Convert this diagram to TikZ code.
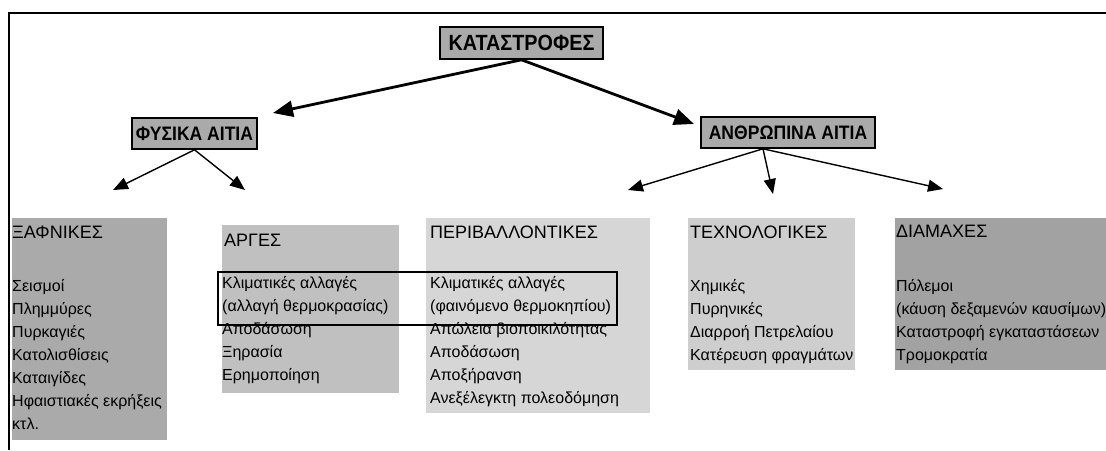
\documentclass[tikz,border=0pt]{standalone}
\usepackage{fontspec}
\setmainfont{Liberation Sans}
\newfontfamily\titlefont{Liberation Sans}[FakeStretch=0.9]
\usetikzlibrary{arrows.meta}
\definecolor{titlegray}{RGB}{170,170,170}
\definecolor{suddengray}{RGB}{170,170,170}
\definecolor{slowgray}{RGB}{192,192,192}
\definecolor{envgray}{RGB}{214,214,214}
\definecolor{techgray}{RGB}{206,206,206}
\definecolor{wargray}{RGB}{162,162,162}
\tikzset{
  titlebox/.style={draw=black, line width=1.6pt, fill=titlegray, inner sep=0pt,
    font=\titlefont\bfseries\fontsize{22}{22}\selectfont},
  causebox/.style={titlebox, minimum height=31pt,
    font=\titlefont\bfseries\fontsize{19.5}{19.5}\selectfont},
  heading/.style={anchor=west, inner sep=0pt, font=\fontsize{18}{18}\selectfont},
  itemlist/.style={anchor=north west, inner sep=0pt, align=left,
    font=\fontsize{16}{23}\selectfont},
  mainarrow/.style={line width=2.8pt, -{Triangle[length=20pt,width=16pt]}},
  subarrow/.style={line width=1.4pt, -{Triangle[length=15pt,width=12pt]}},
}
\begin{document}
\begin{tikzpicture}[x=1pt,y=-1pt]
\useasboundingbox (0,0) rectangle (1106,450);
\fill[white] (0,0) rectangle (1106,450);

% outer frame (top and left edges only)
\draw[line width=2pt] (9,450) -- (9,13) -- (1106,13);

% category panels
\fill[suddengray] (12,218) rectangle (167,440);
\fill[slowgray]   (222,225) rectangle (399,393);
\fill[envgray]    (426,218) rectangle (650,413);
\fill[techgray]   (688,218) rectangle (855,370);
\fill[wargray]    (895,218) rectangle (1106,370);

% top-level boxes
\node[titlebox, minimum width=163pt, minimum height=32pt] (root) at (521.5,43) {ΚΑΤΑΣΤΡΟΦΕΣ};
\node[causebox, minimum width=125pt] (nat) at (194.5,133.5) {ΦΥΣΙΚΑ ΑΙΤΙΑ};
\node[causebox, minimum width=174pt] (hum) at (788,132.5) {ΑΝΘΡΩΠΙΝΑ ΑΙΤΙΑ};

% arrow tips
\coordinate (tnat) at (273,113);
\coordinate (thum) at (694,124);
\coordinate (tsud) at (113,190);
\coordinate (tslow) at (245,190);
\coordinate (tenv) at (628,190);
\coordinate (ttech) at (773,194);
\coordinate (twar) at (943,189);

\draw[mainarrow] (root.south) -- (tnat);
\draw[mainarrow] (root.south) -- (thum);
\draw[subarrow] (nat.south) -- (tsud);
\draw[subarrow] (nat.south) -- (tslow);
\draw[subarrow] ([xshift=-25pt]hum.south) -- (tenv);
\draw[subarrow] ([xshift=-25pt]hum.south) -- (ttech);
\draw[subarrow] ([xshift=-25pt]hum.south) -- (twar);

% panel headings
\node[heading] (hsud)  at (12,232)  {ΞΑΦΝΙΚΕΣ};
\node[heading] (hslow) at (224,240) {ΑΡΓΕΣ};
\node[heading] (henv)  at (430,232) {ΠΕΡΙΒΑΛΛΟΝΤΙΚΕΣ};
\node[heading] (htech) at (690,232) {ΤΕΧΝΟΛΟΓΙΚΕΣ};
\node[heading] (hwar)  at (896,231) {ΔΙΑΜΑΧΕΣ};

% panel contents
\node[itemlist] (lsud) at (12,279) {Σεισμοί\\Πλημμύρες\\Πυρκαγιές\\Κατολισθίσεις\\Καταιγίδες\\Ηφαιστιακές εκρήξεις\\κτλ.};
\node[itemlist] (lslow) at (222,276) {Κλιματικές αλλαγές\\(αλλαγή θερμοκρασίας)\\Αποδάσωση\\Ξηρασία\\Ερημοποίηση};
\node[itemlist] (lenv) at (430,276) {Κλιματικές αλλαγές\\(φαινόμενο θερμοκηπίου)\\Απώλεια βιοποικιλότητας\\Αποδάσωση\\Αποξήρανση\\Ανεξέλεγκτη πολεοδόμηση};
\node[itemlist] (ltech) at (690,279) {Χημικές\\Πυρηνικές\\Διαρροή Πετρελαίου\\Κατέρευση φραγμάτων};
\node[itemlist] (lwar) at (896,279) {Πόλεμοι\\(κάυση δεξαμενών καυσίμων)\\Καταστροφή εγκαταστάσεων\\Τρομοκρατία};

% frame linking the climate-change entries
\draw[line width=1.2pt] (218,272) rectangle (617,325);
\end{tikzpicture}
\end{document}
